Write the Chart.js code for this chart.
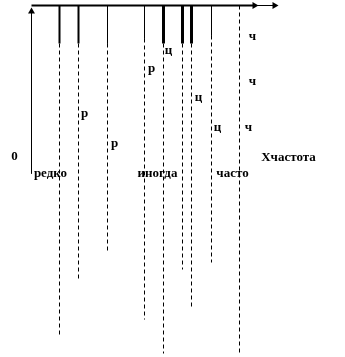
<!DOCTYPE html>
<html lang="ru">
<head>
<meta charset="UTF-8">
<title>Частота</title>
<script src="https://cdn.jsdelivr.net/npm/chart.js"></script>
<style>
  body { margin: 0; background: #fff; }
  canvas { display: block; }
</style>
</head>
<body>
<canvas id="freqChart" width="345" height="357"></canvas>
<script>
// vertical lines hanging from the frequency axis (solid part, then dashed)
const lineX = [59, 78, 107, 144, 163, 182, 191, 211, 239];
const solidTo = [43, 43, 43, 38, 43, 43, 43, 35, 5];
const dashTo = [337, 281, 252, 319, 353, 269, 309, 262, 353];
const lineWeight = [2, 2, 1, 1, 3, 3, 3, 1, 1];

// letters beside the lines
const letters = ['р', 'р', 'р', 'ц', 'ч', 'ч', 'ц', 'ц', 'ч'];
const letterX = [84, 114, 151, 168, 252, 252, 198, 217, 248];
const letterY = [113, 143, 68, 50, 36, 81, 97, 127, 127];

// axis captions
const captions = ['0', 'редко', 'иногда', 'часто', 'Xчастота'];
const captionX = [14, 50, 157, 232, 288];
const captionY = [156, 173, 173, 173, 157];

// axes
const axisY = 5;
const axisStart = 31;
const axisEnd = 254;
const axisEnd2 = 274;
const yAxisTop = 11;
const yAxisBottom = 173;

const datasets = [];
const seg = (pts, width, dash) => ({
    type: 'line',
    data: pts,
    borderColor: '#000',
    borderWidth: width,
    borderDash: dash || [],
    pointRadius: 0,
    fill: false,
    clip: false
});

datasets.push(seg([{x: axisStart, y: axisY}, {x: axisEnd, y: axisY}], 2));
datasets.push(seg([{x: axisEnd, y: axisY}, {x: axisEnd2, y: axisY}], 1));
datasets.push(seg([{x: axisStart, y: yAxisTop}, {x: axisStart, y: yAxisBottom}], 1));

lineX.forEach((x, i) => {
    if (solidTo[i] > axisY) {
        datasets.push(seg([{x: x, y: axisY}, {x: x, y: solidTo[i]}], lineWeight[i]));
    }
    datasets.push(seg([{x: x, y: solidTo[i]}, {x: x, y: dashTo[i]}], 1, [4, 3]));
});

// arrow heads
datasets.push({
    type: 'scatter',
    data: [{x: axisEnd, y: axisY}, {x: axisEnd2, y: axisY}],
    pointStyle: 'triangle',
    rotation: 90,
    pointRadius: 4,
    backgroundColor: '#000',
    borderColor: '#000',
    borderWidth: 0,
    clip: false
});
datasets.push({
    type: 'scatter',
    data: [{x: axisStart, y: yAxisTop}],
    pointStyle: 'triangle',
    rotation: 0,
    pointRadius: 4,
    backgroundColor: '#000',
    borderColor: '#000',
    borderWidth: 0,
    clip: false
});

const textPlugin = {
    id: 'texts',
    afterDatasetsDraw(chart) {
        const ctx = chart.ctx;
        const xs = chart.scales.x, ys = chart.scales.y;
        ctx.save();
        ctx.fillStyle = '#000';
        ctx.font = 'bold 13px "Liberation Serif", "Times New Roman", serif';
        ctx.textAlign = 'center';
        ctx.textBaseline = 'middle';
        letters.forEach((t, i) => {
            ctx.fillText(t, xs.getPixelForValue(letterX[i]), ys.getPixelForValue(letterY[i]));
        });
        captions.forEach((t, i) => {
            ctx.fillText(t, xs.getPixelForValue(captionX[i]), ys.getPixelForValue(captionY[i]));
        });
        ctx.restore();
    }
};

new Chart(document.getElementById('freqChart').getContext('2d'), {
    type: 'line',
    data: { datasets: datasets },
    options: {
        responsive: false,
        animation: false,
        layout: { padding: 0, autoPadding: false },
        plugins: { legend: { display: false }, tooltip: { enabled: false } },
        scales: {
            x: { type: 'linear', min: -0.5, max: 344.5, display: false },
            y: { type: 'linear', min: -0.5, max: 356.5, reverse: true, display: false }
        }
    },
    plugins: [textPlugin]
});
</script>
</body>
</html>
